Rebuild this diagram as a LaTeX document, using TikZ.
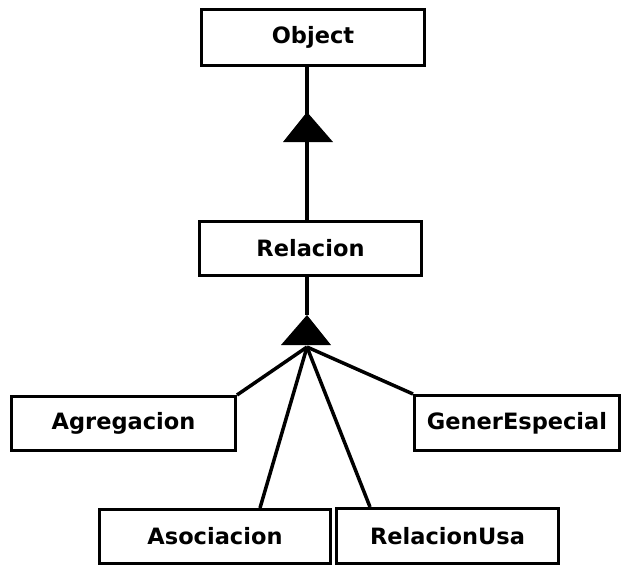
\documentclass[tikz,border=0pt]{standalone}
\usepackage{fontspec}
\setmainfont{DejaVu Sans}
\begin{document}
\begin{tikzpicture}[x=1pt,y=-1pt,
  classbox/.style={draw=black, line width=3pt, fill=white, inner sep=0pt,
    font=\fontsize{22.5}{26}\selectfont\bfseries},
  link/.style={line width=3.5pt, black},
  gentri/.style={fill=black}]
  \useasboundingbox (0,0) rectangle (630,566);

  % classes
  \node[classbox, minimum width=223pt, minimum height=56pt] (object)   at (313,37.5)  {Object};
  \node[classbox, minimum width=222pt, minimum height=54pt] (relacion) at (310.5,248.5) {Relacion};
  \node[classbox, minimum width=224pt, minimum height=54pt] (agreg)    at (123.5,423.5) {Agregacion};
  \node[classbox, minimum width=205pt, minimum height=55pt] (gener)    at (517,423)   {GenerEspecial};
  \node[classbox, minimum width=231pt, minimum height=54pt] (asoc)     at (215,536.5) {Asociacion};
  \node[classbox, minimum width=222pt, minimum height=55pt] (relusa)   at (447.5,536) {RelacionUsa};

  % generalization: Relacion -> Object
  \coordinate (tip1) at (307,112);
  \draw[link] (object.south -| tip1) -- (relacion.north -| tip1);
  \fill[gentri] (tip1) -- ++(-24,30) -- ++(50,0) -- cycle;

  % generalization: subclasses -> Relacion
  \coordinate (tip2) at (307,315);
  \coordinate (hub) at (307,347);
  \coordinate (asocend) at (260,0);
  \coordinate (relusaend) at (370,0);
  \draw[link] (relacion.south -| tip2) -- (tip2);
  \fill[gentri] (tip2) -- ++(-26,30) -- ++(50,0) -- cycle;
  \draw[link] (hub) -- (agreg.north east);
  \draw[link] (hub) -- (gener.north west);
  \draw[link] (hub) -- (asoc.north -| asocend);
  \draw[link] (hub) -- (relusa.north -| relusaend);
\end{tikzpicture}
\end{document}
